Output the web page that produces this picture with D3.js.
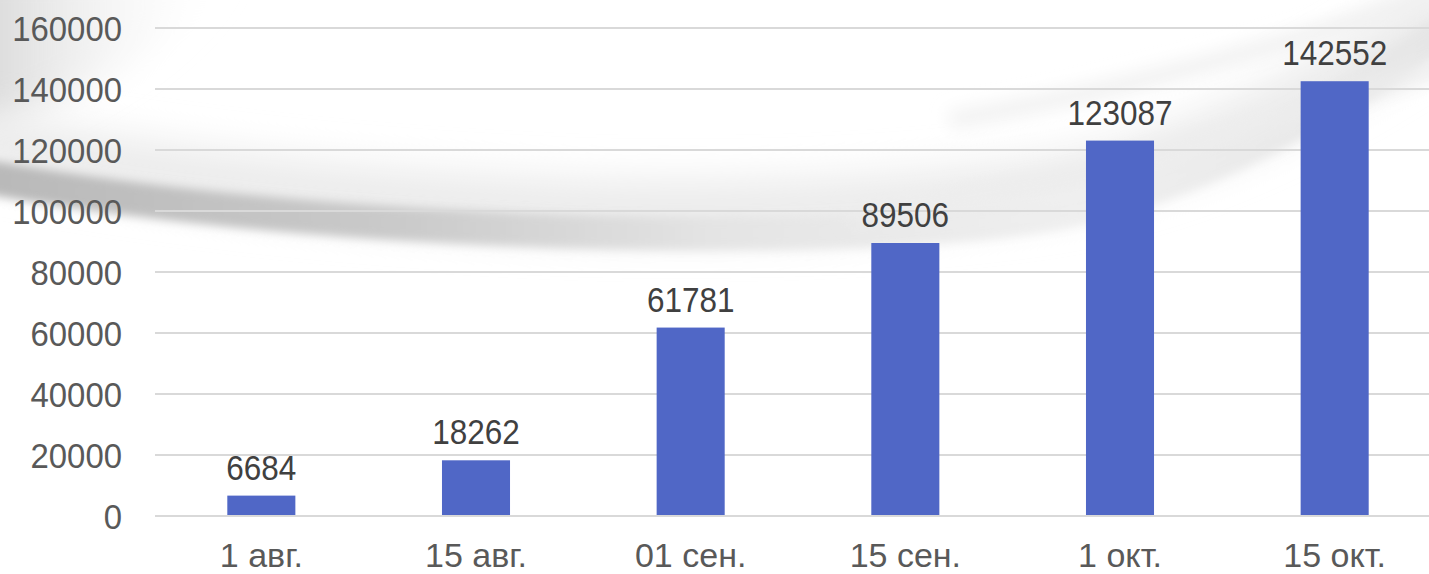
<!DOCTYPE html>
<html>
<head>
<meta charset="utf-8">
<script src="https://cdn.jsdelivr.net/npm/d3@7"></script>
<style>
  html, body { margin: 0; padding: 0; background: #fff; }
  svg { display: block; }
  text { font-family: "Liberation Sans", Arial, sans-serif; }
</style>
</head>
<body>
<div id="chart"></div>
<script>
// --- data ---
const categories = ["1 авг.", "15 авг.", "01 сен.", "15 сен.", "1 окт.", "15 окт."];
const values = [6684, 18262, 61781, 89506, 123087, 142552];
const yTicks = [0, 20000, 40000, 60000, 80000, 100000, 120000, 140000, 160000];

const W = 1429, H = 574;

const svg = d3.select("#chart").append("svg")
    .attr("width", W)
    .attr("height", H);

// --- background swoosh ---
const defs = svg.append("defs");
defs.append("filter").attr("id", "blurBig").attr("x", "-20%").attr("y", "-50%").attr("width", "140%").attr("height", "200%")
    .append("feGaussianBlur").attr("stdDeviation", 18);
defs.append("filter").attr("id", "blurSmall").attr("x", "-20%").attr("y", "-50%").attr("width", "140%").attr("height", "200%")
    .append("feGaussianBlur").attr("stdDeviation", 5);
defs.append("filter").attr("id", "blurMid").attr("x", "-20%").attr("y", "-50%").attr("width", "140%").attr("height", "200%")
    .append("feGaussianBlur").attr("stdDeviation", 9);

const bandGrad = defs.append("linearGradient").attr("id", "bandGrad")
    .attr("gradientUnits", "userSpaceOnUse")
    .attr("x1", 0).attr("y1", 0).attr("x2", W).attr("y2", 0);
bandGrad.append("stop").attr("offset", "0%").attr("stop-color", "#b9b9b9");
bandGrad.append("stop").attr("offset", "28%").attr("stop-color", "#cacaca");
bandGrad.append("stop").attr("offset", "50%").attr("stop-color", "#e4e4e4");
bandGrad.append("stop").attr("offset", "75%").attr("stop-color", "#efefef");
bandGrad.append("stop").attr("offset", "100%").attr("stop-color", "#e6e6e6");

const hazeGrad = defs.append("linearGradient").attr("id", "hazeGrad")
    .attr("x1", "0%").attr("y1", "0%").attr("x2", "100%").attr("y2", "0%");
hazeGrad.append("stop").attr("offset", "0%").attr("stop-color", "#d2d2d2");
hazeGrad.append("stop").attr("offset", "100%").attr("stop-color", "#ffffff").attr("stop-opacity", 0);

const bg = svg.append("g").attr("class", "background");

// grey haze at top-left
bg.append("path")
    .attr("d", "M-40,-40 L240,-40 C190,30 110,90 -40,140 Z")
    .attr("fill", "url(#hazeGrad)")
    .attr("filter", "url(#blurBig)");

// soft wide glow above the band
bg.append("path")
    .attr("d", "M-30,140 C150,175 350,200 600,208 C800,212 950,200 1050,185 C1200,160 1330,90 1460,0")
    .attr("fill", "none")
    .attr("stroke", "#ececec")
    .attr("stroke-width", 60)
    .attr("filter", "url(#blurBig)");

// main curved band
bg.append("path")
    .attr("d", "M-30,174 C150,206 350,226 600,232 C800,236 950,230 1050,214 C1200,186 1330,110 1460,20")
    .attr("fill", "none")
    .attr("stroke", "url(#bandGrad)")
    .attr("stroke-width", 34)
    .attr("filter", "url(#blurSmall)");

// lighter streaks toward top right
bg.append("path")
    .attr("d", "M850,215 C1050,190 1250,130 1460,60")
    .attr("fill", "none")
    .attr("stroke", "#ededed")
    .attr("stroke-width", 16)
    .attr("filter", "url(#blurMid)");
bg.append("path")
    .attr("d", "M950,120 C1100,95 1250,55 1460,-10")
    .attr("fill", "none")
    .attr("stroke", "#f0f0f0")
    .attr("stroke-width", 16)
    .attr("filter", "url(#blurMid)");

// --- scales ---
const x = d3.scaleBand()
    .domain(categories)
    .range([154, 1442])
    .paddingInner(0.683)
    .paddingOuter(0.3415);

const y = d3.scaleLinear()
    .domain([0, 160000])
    .range([516, 28]);

// gridlines
svg.append("g").attr("class", "grid")
    .selectAll("line")
    .data(yTicks)
    .join("line")
    .attr("x1", 155)
    .attr("x2", W)
    .attr("y1", d => y(d))
    .attr("y2", d => y(d))
    .attr("stroke", "#d9d9d9")
    .attr("stroke-width", 2);

// y axis labels
const yAxis = d3.axisLeft(y).tickValues(yTicks).tickSize(0).tickPadding(0).tickFormat(d3.format("d"));
const gy = svg.append("g").attr("transform", "translate(122,0)").call(yAxis);
gy.select(".domain").remove();
gy.selectAll("text")
    .attr("fill", "#595959")
    .style("font-size", "35px")
    .style("font-family", null)
    .attr("dy", "0.36em")
    .attr("transform", "scale(0.94,1)");

// bars
svg.append("g").attr("class", "bars")
    .selectAll("rect")
    .data(values)
    .join("rect")
    .attr("x", (d, i) => x(categories[i]))
    .attr("y", d => y(d))
    .attr("width", x.bandwidth())
    .attr("height", d => y(0) - y(d) - 1)
    .attr("fill", "#5067c6");

// value labels
svg.append("g").attr("class", "labels")
    .selectAll("text")
    .data(values)
    .join("text")
    .attr("transform", (d, i) => `translate(${x(categories[i]) + x.bandwidth() / 2},${y(d) - 16}) scale(0.9,1)`)
    .attr("text-anchor", "middle")
    .attr("fill", "#404040")
    .style("font-size", "35px")
    .text(d => d);

// x axis labels
const xAxis = d3.axisBottom(x).tickSize(0).tickPadding(0);
const gx = svg.append("g").attr("transform", "translate(0,567)").call(xAxis);
gx.select(".domain").remove();
gx.selectAll("text")
    .attr("y", 0)
    .attr("dy", 0)
    .attr("fill", "#595959")
    .style("font-size", "34px")
    .style("font-family", null);
</script>
</body>
</html>
